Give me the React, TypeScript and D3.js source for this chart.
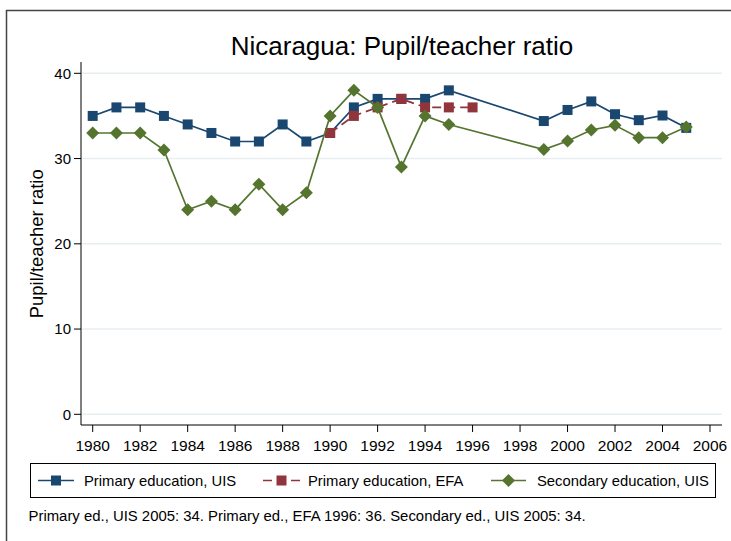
import React from "react";
import * as d3 from "d3";

const primaryUisYears = [1980, 1981, 1982, 1983, 1984, 1985, 1986, 1987, 1988, 1989, 1990, 1991, 1992, 1993, 1994, 1995, 1999, 2000, 2001, 2002, 2003, 2004, 2005];
const primaryUisValues = [35, 36, 36, 35, 34, 33, 32, 32, 34, 32, 33, 36, 37, 37, 37, 38, 34.4, 35.7, 36.7, 35.2, 34.5, 35.05, 33.6];

const primaryEfaYears = [1990, 1991, 1992, 1993, 1994, 1995, 1996];
const primaryEfaValues = [33, 35, 36, 37, 36, 36, 36];

const secondaryUisYears = [1980, 1981, 1982, 1983, 1984, 1985, 1986, 1987, 1988, 1989, 1990, 1991, 1992, 1993, 1994, 1995, 1999, 2000, 2001, 2002, 2003, 2004, 2005];
const secondaryUisValues = [33, 33, 33, 31, 24, 25, 24, 27, 24, 26, 35, 38, 36, 29, 35, 34, 31.05, 32.05, 33.35, 33.9, 32.45, 32.45, 33.7];

const xTicks = [1980, 1982, 1984, 1986, 1988, 1990, 1992, 1994, 1996, 1998, 2000, 2002, 2004, 2006];
const yTicks = [0, 10, 20, 30, 40];

const titleText = "Nicaragua: Pupil/teacher ratio";
const yTitle = "Pupil/teacher ratio";
const noteText = "Primary ed., UIS 2005: 34. Primary ed., EFA 1996: 36. Secondary ed., UIS 2005: 34.";
const legendLabels = ["Primary education, UIS", "Primary education, EFA", "Secondary education, UIS"];

const BLUE = "#1a476f";
const RED = "#90353b";
const GREEN = "#55752f";
const FONT = "'Liberation Sans', Arial, Helvetica, sans-serif";

type Pt = { x: number; y: number };

export default function App() {
  const x = d3.scaleLinear().domain([1980, 2006]).range([92.7, 710]);
  const y = d3.scaleLinear().domain([0, 40]).range([414.3, 73.3]);
  const plotLeft = 81;
  const plotRight = 722;
  const plotTop = 62;
  const plotBottom = 425;

  const line = d3
    .line<Pt>()
    .x((d) => x(d.x))
    .y((d) => y(d.y));

  const mk = (xs: number[], vs: number[]): Pt[] => xs.map((v, i) => ({ x: v, y: vs[i] }));
  const blue = mk(primaryUisYears, primaryUisValues);
  const red = mk(primaryEfaYears, primaryEfaValues);
  const green = mk(secondaryUisYears, secondaryUisValues);

  const square = (cx: number, cy: number, color: string, key: string, s = 5) => (
    <rect key={key} x={cx - s} y={cy - s} width={2 * s} height={2 * s} fill={color} />
  );
  const diamond = (cx: number, cy: number, color: string, key: string, r = 6.5) => (
    <path key={key} d={`M${cx},${cy - r}L${cx + r},${cy}L${cx},${cy + r}L${cx - r},${cy}Z`} fill={color} />
  );

  const legendY = 480.5;
  const legendItems = [
    { x0: 38, x1: 74, textX: 84, color: BLUE, dash: undefined as string | undefined, marker: "square" },
    { x0: 263, x1: 300, textX: 308, color: RED, dash: "9,5", marker: "square" },
    { x0: 491, x1: 526, textX: 537, color: GREEN, dash: undefined, marker: "diamond" },
  ];

  return (
    <svg width={731} height={541} style={{ position: "absolute", left: 0, top: 0, background: "#fff" }} fontFamily={FONT}>
      <rect x={0} y={0} width={731} height={541} fill="#fff" />
      <path d="M6.5,541V10.5H731" fill="none" stroke="#444" strokeWidth={1.5} />

      {/* gridlines */}
      {yTicks.map((t) => (
        <line key={"g" + t} x1={plotLeft + 1} x2={plotRight} y1={y(t)} y2={y(t)} stroke="#e6eef2" strokeWidth={1.5} />
      ))}

      {/* axes */}
      <line x1={plotLeft} x2={plotLeft} y1={plotTop} y2={plotBottom} stroke="#000" strokeWidth={1} />
      <line x1={plotLeft} x2={plotRight} y1={plotBottom} y2={plotBottom} stroke="#000" strokeWidth={1} />
      {yTicks.map((t) => (
        <g key={"yt" + t}>
          <line x1={plotLeft - 7} x2={plotLeft} y1={y(t)} y2={y(t)} stroke="#000" strokeWidth={1} />
          <text x={plotLeft - 10} y={y(t)} dy="0.36em" textAnchor="end" fontSize={15} fill="#000">
            {t}
          </text>
        </g>
      ))}
      {xTicks.map((t) => (
        <g key={"xt" + t}>
          <line x1={x(t)} x2={x(t)} y1={plotBottom} y2={plotBottom + 7} stroke="#000" strokeWidth={1} />
          <text x={x(t)} y={450.5} textAnchor="middle" fontSize={15.5} fill="#000">
            {t}
          </text>
        </g>
      ))}

      {/* titles */}
      <text x={402} y={55} textAnchor="middle" fontSize={26} fill="#000">
        {titleText}
      </text>
      <text transform={`translate(43,${y(20)}) rotate(-90)`} textAnchor="middle" fontSize={18.5} fill="#000">
        {yTitle}
      </text>

      {/* series */}
      <path d={line(blue) || ""} fill="none" stroke={BLUE} strokeWidth={1.7} />
      {blue.map((d, i) => square(x(d.x), y(d.y), BLUE, "b" + i))}
      <path d={line(red) || ""} fill="none" stroke={RED} strokeWidth={1.7} strokeDasharray="9,5" />
      {red.map((d, i) => square(x(d.x), y(d.y), RED, "r" + i))}
      <path d={line(green) || ""} fill="none" stroke={GREEN} strokeWidth={1.7} />
      {green.map((d, i) => diamond(x(d.x), y(d.y), GREEN, "gr" + i))}

      {/* legend */}
      <rect x={30.5} y={463.5} width={685} height={34} fill="#fff" stroke="#000" strokeWidth={1} />
      {legendItems.map((it, i) => (
        <g key={"lg" + i}>
          <line x1={it.x0} x2={it.x1} y1={legendY} y2={legendY} stroke={it.color} strokeWidth={1.7} strokeDasharray={it.dash} />
          {it.marker === "square"
            ? square((it.x0 + it.x1) / 2, legendY, it.color, "lm" + i)
            : diamond((it.x0 + it.x1) / 2, legendY, it.color, "lm" + i)}
          <text x={it.textX} y={legendY} dy="0.36em" fontSize={14.8} fill="#000">
            {legendLabels[i]}
          </text>
        </g>
      ))}

      {/* note */}
      <text x={28.5} y={521} fontSize={14.9} fill="#000">
        {noteText}
      </text>
    </svg>
  );
}
